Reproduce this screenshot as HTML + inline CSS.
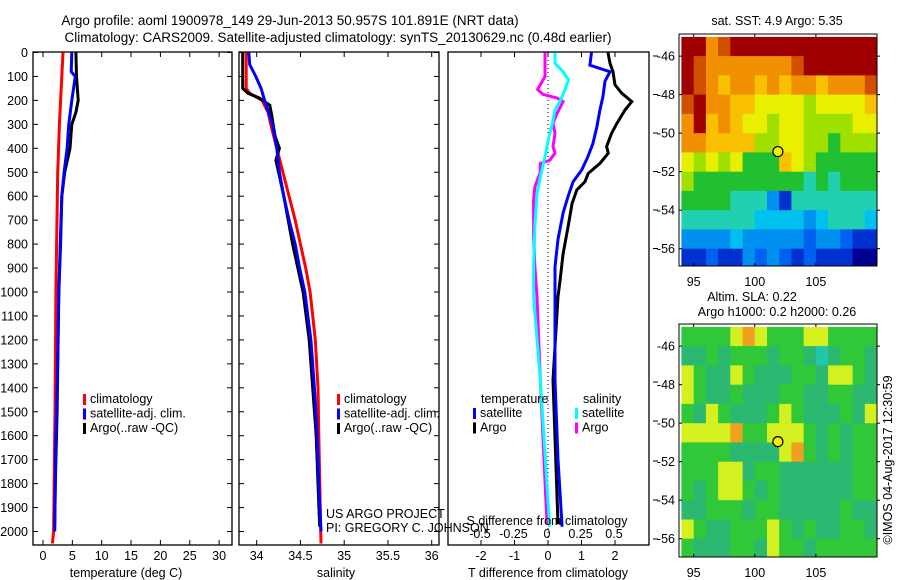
<!DOCTYPE html>
<html><head><meta charset="utf-8">
<style>
html,body{margin:0;padding:0;background:#fff;}
svg{display:block;font-family:"Liberation Sans",sans-serif;}
text{font-size:12.5px;fill:#000;}
</style></head>
<body>
<svg id="chart" width="900" height="580" viewBox="0 0 900 580" xmlns="http://www.w3.org/2000/svg">
<text x="290" y="25" text-anchor="middle" style="font-size:13.5px">Argo profile: aoml 1900978_149 29-Jun-2013 50.957S 101.891E (NRT data)</text>
<text x="338" y="42" text-anchor="middle" style="font-size:13.5px">Climatology: CARS2009. Satellite-adjusted climatology: synTS_20130629.nc (0.48d earlier)</text>
<g id="g"></g>
</svg>
<script>
// ---------- data ----------
const tDepthClim = [0,100,300,400,500,1000,1500,2000,2050];
const tClim = [3.4,3.2,2.8,2.65,2.5,2.2,2.05,1.8,1.6];
const tDepthSat = [0,80,100,200,300,400,500,600,800,1000,1400,1600,2000];
const tSat = [4.9,4.8,5.5,4.9,4.4,4.1,3.6,3.2,3.0,2.7,2.4,2.2,2.0];
const tDepthArgo = [0,100,200,250,300,400,500,600,1000,1500,1800,1980];
const tArgo = [5.6,5.7,6.0,5.6,4.9,4.6,3.7,3.2,2.7,2.4,2.1,2.0];

const sDepthClim = [0,150,170,200,250,300,400,500,600,700,800,900,1000,1200,1400,1600,2050];
const sClim = [33.88,33.88,33.92,34.06,34.13,34.16,34.23,34.30,34.37,34.44,34.50,34.56,34.61,34.67,34.70,34.71,34.735];
const sDepthSat = [0,50,100,150,200,300,400,500,600,700,800,900,1000,1200,1400,1600,1800,2000];
const sSat = [33.91,33.92,33.99,34.05,34.09,34.18,34.23,34.26,34.31,34.37,34.44,34.49,34.55,34.62,34.66,34.69,34.71,34.735];
const sDepthArgo = [0,150,170,190,220,260,350,400,450,500,600,800,1000,1200,1400,1600,1800,1980];
const sArgo = [33.84,33.84,33.90,34.03,34.15,34.17,34.21,34.26,34.22,34.25,34.31,34.41,34.53,34.60,34.64,34.68,34.70,34.72];

const dDepthTSat = [0,53,80,120,185,240,310,380,435,490,540,600,670,780,895,1020,1370,1700,1980];
const dTSat = [1.3,1.25,1.85,1.70,1.64,1.55,1.46,1.34,1.19,1.01,0.75,0.60,0.45,0.30,0.21,0.21,0.21,0.30,0.42];
const dDepthTArgo = [0,45,80,135,170,205,240,295,337,393,420,463,505,540,574,630,727,840,950,1020,1367,1970];
const dTArgo = [1.79,1.85,1.94,2.0,2.2,2.5,2.3,2.06,1.9,1.75,1.8,1.55,1.2,1.1,0.86,0.72,0.6,0.45,0.36,0.30,0.15,0.30];
const dDepthSSat = [0,45,80,115,162,199,240,295,365,435,520,590,727,895,1020,1367,1980];
const dSSat = [0.06,0.06,0.12,0.16,0.13,0.10,0.06,0.04,0.01,-0.015,-0.05,-0.075,-0.09,-0.10,-0.10,-0.05,0.02];
const dDepthSArgo = [0,100,155,175,190,205,255,295,337,393,420,450,463,500,560,615,755,895,1020,1367,1970];
const dSArgo = [-0.015,-0.015,-0.07,-0.03,0.075,0.12,0.075,0.045,0.06,0.045,0.06,0.02,-0.05,-0.05,-0.09,-0.1,-0.1,-0.09,-0.075,-0.05,0.0];

const depthTicks = [0,100,200,300,400,500,600,700,800,900,1000,1100,1200,1300,1400,1500,1600,1700,1800,1900,2000];
const tempTicks = [0,5,10,15,20,25,30];
const salTicks = [34,34.5,35,35.5,36];
const dTTicks = [-2,-1,0,1,2];
const dSTicks = [-0.5,-0.25,0,0.25,0.5];
const dSTickLabels = ["-0.5","-0.25","0","0.25","0.5"];
const lonTicks = [95,100,105];
const latTicks = [-46,-48,-50,-52,-54,-56];

const floatLon = 101.891, floatLat = -50.957;
const mapLon0 = 94, mapLat0 = -45; // grid origin, 1 degree cells
const sstGrid = [
[10,10,8,9,10,10,10,10,10,10,10,10,10,10,10,10],
[10,9,8,8,8,8,8,8,8,9,10,10,10,10,10,10],
[10,9,8,7,8,8,7,8,7,8,8,7,8,8,8,9],
[9,10,8,8,7,7,6,6,6,6,5,6,6,6,6,7],
[8,10,7,8,7,6,6,5,6,6,5,5,5,5,6,6],
[8,8,7,7,7,7,5,5,6,6,5,5,4,5,5,5],
[6,5,6,5,6,4,4,4,7,6,5,4,4,4,4,4],
[5,4,4,4,4,4,4,4,4,4,3,4,3,4,4,4],
[4,4,4,4,3,3,3,2,1,3,3,3,3,3,3,3],
[3,3,3,3,3,3,2.5,2.5,2.5,2.5,2,2.5,3,3,3,2.5],
[2,2,2,2,2.5,2,2,2,2,2,1.5,2,2,1.5,1,1],
[1,1,1.5,1,1,2,1.5,2,1.5,1,1.5,1,1,1,0.5,0.5]];
const slaGrid = [
[5,5,5,5,6,7,6,5,5,5,6,6,5,5,5,5],
[4,4,5,4,5,5,5,4,5,5,4,3,4,5,5,4],
[6,5,4,4,6,5,4,4,4,5,5,4,6,6,5,4],
[6,5,4,4,5,4,4,4,5,5,4,4,5,5,4,4],
[5,4,6,5,4,4,4,5,6,5,4,4,4,5,4,6],
[6,6,6,6,7,5,5,6,6,6,5,4,5,4,5,5],
[5,5,5,5,4,4,4,4,6,7,5,4,5,4,5,5],
[5,5,5,6,6,4,5,5,4,4,4,4,4,4,5,5],
[5,4,5,6,6,5,4,5,4,4,4,4,4,4,5,5],
[4,4,5,5,5,4,5,5,4,4,4,4,4,5,4,4],
[6,5,4,4,5,5,5,6,5,4,5,4,4,5,5,4],
[5,4,4,4,5,5,4,6,5,5,4,5,5,5,5,5]];

// ---------- helpers ----------
const NS="http://www.w3.org/2000/svg";
const G=document.getElementById('g');
function mk(tag,attrs,parent){const e=document.createElementNS(NS,tag);for(const k in attrs)e.setAttribute(k,attrs[k]);(parent||G).appendChild(e);return e;}
function txt(x,y,s,anchor,name,extra){const e=mk('text',Object.assign({x:x,y:y,'text-anchor':anchor||'start'},extra||{}));e.textContent=s;


return e;}
const yD=d=>52.5+d*0.2395;
const PY0=52, PY1=545;

function panel(x0,x1,name){
 const r=mk('rect',{x:x0,y:PY0,width:x1-x0,height:PY1-PY0,fill:'none',stroke:'#000','stroke-width':1.3});
 
 
}
function line(xs,ds,fx,color,name,w){
 const p=xs.map((v,i)=>fx(v).toFixed(1)+','+yD(ds[i]).toFixed(1)).join(' ');
 const e=mk('polyline',{points:p,fill:'none',stroke:color,'stroke-width':w||3,'stroke-linejoin':'miter'});
 
 
}
function depthAxis(x0,x1,labels){
 depthTicks.forEach(d=>{const y=yD(d);
  mk('line',{x1:x0,y1:y,x2:x0+5,y2:y,stroke:'#000'});
  mk('line',{x1:x1,y1:y,x2:x1-5,y2:y,stroke:'#000'});
  if(labels)txt(28,y+4.5,String(d),'end','depth-tick-label');});
}

// ---------- panel 1: temperature ----------
const fT=t=>43+5.87*t;
panel(33,232,'temperature-panel');
depthAxis(33,232,true);
tempTicks.forEach(t=>{const x=fT(t);mk('line',{x1:x,y1:PY1,x2:x,y2:PY1-5,stroke:'#000'});mk('line',{x1:x,y1:PY0,x2:x,y2:PY0+5,stroke:'#000'});txt(x,560,String(t),'middle','temperature-tick-label');});
txt(126,577,'temperature (deg C)','middle','temperature-axis-title');
line(tClim,tDepthClim,fT,'#f00','temp-climatology-line');
line(tArgo,tDepthArgo,fT,'#000','temp-argo-line');
line(tSat,tDepthSat,fT,'#00f','temp-satellite-line');

// ---------- panel 2: salinity ----------
const fS=s=>256.7+87.5*(s-34);
panel(239,439,'salinity-panel');
depthAxis(239,439,false);
salTicks.forEach(s=>{const x=fS(s);mk('line',{x1:x,y1:PY1,x2:x,y2:PY1-5,stroke:'#000'});mk('line',{x1:x,y1:PY0,x2:x,y2:PY0+5,stroke:'#000'});txt(x,560,String(s),'middle','salinity-tick-label');});
txt(336,577,'salinity','middle','salinity-axis-title');
line(sClim,sDepthClim,fS,'#f00','sal-climatology-line');
line(sArgo,sDepthArgo,fS,'#000','sal-argo-line');
line(sSat,sDepthSat,fS,'#00f','sal-satellite-line');

// legends
function legend(x,y,entries,prefix){entries.forEach((en,i)=>{const yy=y+i*14.5;
 const r=mk('rect',{x:x,y:yy-9,width:3,height:11,fill:en[1]});
 
 
 txt(x+7,yy,en[0],'start',prefix+'-label');});}
const legEntries=[['climatology','#f00'],['satellite-adj. clim.','#00f'],['Argo(..raw -QC)','#000']];
legend(83,403,legEntries,'temp-legend');
legend(337,403,legEntries,'sal-legend');
txt(326,518,'US ARGO PROJECT','start','project-credit');
txt(326,532,'PI: GREGORY C. JOHNSON','start','pi-credit');

// ---------- panel 3: differences ----------
const fdT=v=>548+33.5*v;
const fdS=v=>547+134*v;
panel(448,649,'difference-panel');
mk('line',{x1:548,y1:PY0,x2:548,y2:PY1,stroke:'#000','stroke-dasharray':'1,3'});
dTTicks.forEach(t=>{const x=fdT(t);mk('line',{x1:x,y1:PY1,x2:x,y2:PY1-5,stroke:'#000'});mk('line',{x1:x,y1:PY0,x2:x,y2:PY0+5,stroke:'#000'});txt(x,560,String(t),'middle','dT-tick-label');});
dSTicks.forEach((s,i)=>{txt(fdS(s),538,dSTickLabels[i],'middle','dS-tick-label');});
txt(548,577,'T difference from climatology','middle','dT-axis-title');
line(dSArgo,dDepthSArgo,fdS,'#f0f','dS-argo-line');
line(dSSat,dDepthSSat,fdS,'#0ff','dS-satellite-line');
line(dTArgo,dDepthTArgo,fdT,'#000','dT-argo-line');
line(dTSat,dDepthTSat,fdT,'#00f','dT-satellite-line');
txt(547,525,'S difference from climatology','middle','dS-axis-title');
txt(481,403,'temperature','start','dT-legend-title');
txt(583,403,'salinity','start','dS-legend-title');
legend(473,417,[['satellite','#00f'],['Argo','#000']],'dT-legend');
legend(575,417,[['satellite','#0ff'],['Argo','#f0f']],'dS-legend');
[56,94.5,133,171.5,210,248.5,382,421,461,500,539].forEach(y=>mk('line',{x1:653,y1:y,x2:658,y2:y,stroke:'#000'}));

// ---------- maps ----------
const jet=[[0,'#000090'],[1,'#0030d0'],[1.5,'#0060f0'],[2,'#0090f0'],[2.5,'#00c0f0'],[3,'#20d0b0'],[4,'#20c030'],[5,'#a0e000'],[6,'#e8f000'],[7,'#f8c000'],[8,'#f09000'],[9,'#d05000'],[10,'#a00000']];
const slaPal={3:'#20c8a8',4:'#2cb870',5:'#30c838',6:'#d4f020',7:'#f0a020'};
function sstColor(v){let best=jet[0];jet.forEach(c=>{if(Math.abs(c[0]-v)<Math.abs(best[0]-v))best=c;});return best[1];}
function map(px0,px1,py0,py1,latTop,latBot,grid,colorFn,name){
 const fx=lon=>px0+(lon-93.8)*(px1-px0)/(110.0-93.8);
 const fy=lat=>py0+(latTop-lat)*(py1-py0)/(latTop-latBot);
 const clip='clip-'+name;
 const cp=mk('clipPath',{id:clip});mk('rect',{x:px0,y:py0,width:px1-px0,height:py1-py0},cp);
 const g=mk('g',{'clip-path':'url(#'+clip+')'});
 
 
 grid.forEach((row,r)=>row.forEach((v,c)=>{
  const x=fx(mapLon0+c),y=fy(mapLat0-r);
  const cell=mk('rect',{x:x.toFixed(1),y:y.toFixed(1),width:(fx(mapLon0+c+1)-x+0.5).toFixed(1),height:(fy(mapLat0-r-1)-y+0.5).toFixed(1),fill:colorFn(v)},g);
  
  
 }));
 const fr=mk('rect',{x:px0,y:py0,width:px1-px0,height:py1-py0,fill:'none',stroke:'#000','stroke-width':1});
 
 
 lonTicks.forEach(l=>{const x=fx(l);mk('line',{x1:x,y1:py0,x2:x,y2:py0+3,stroke:'#000'});mk('line',{x1:x,y1:py1,x2:x,y2:py1-3,stroke:'#000'});txt(x,py1+20,String(l),'middle',name+'-lon-label');});
 latTicks.forEach(l=>{const y=fy(l);mk('line',{x1:px0,y1:y,x2:px0+3,y2:y,stroke:'#000'});mk('line',{x1:px1,y1:y,x2:px1+3,y2:y,stroke:'#000'});txt(px0-4,y+4.5,String(l),'end',name+'-lat-label');});
 const m=mk('circle',{cx:fx(floatLon),cy:fy(floatLat),r:5,fill:'#f0f000',stroke:'#000','stroke-width':1.2});
 
 
}
map(679,877,34,266,-44.85,-56.9,sstGrid,sstColor,'sst-map');
txt(777,25,'sat. SST: 4.9 Argo: 5.35','middle','sst-map-title');
map(679,877,324,557,-44.85,-56.95,slaGrid,v=>slaPal[v],'sla-map');
txt(752,301,'Altim. SLA: 0.22','middle','sla-map-title');
txt(777,316,'Argo h1000: 0.2 h2000: 0.26','middle','sla-map-subtitle');
txt(0,0,'©IMOS 04-Aug-2017 12:30:59','middle','imos-timestamp',{transform:'translate(892,460) rotate(-90)'});
</script>
</body></html>
